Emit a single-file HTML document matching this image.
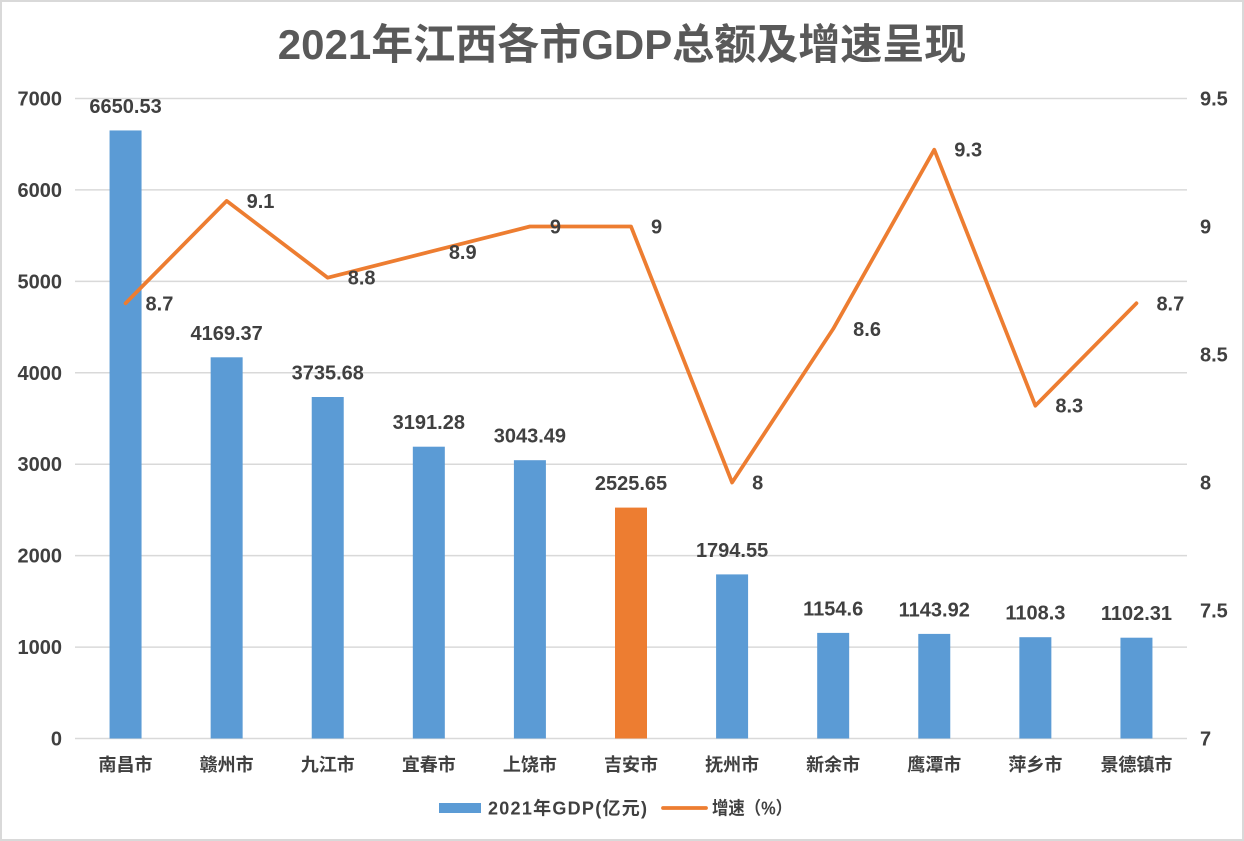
<!DOCTYPE html>
<html>
<head>
<meta charset="utf-8">
<style>
  html, body { margin: 0; padding: 0; background: #ffffff; }
  svg { display: block; }
  text { font-family: "Liberation Sans", "Noto Sans CJK SC", sans-serif; font-weight: bold; fill: #404040; }
</style>
</head>
<body>
<svg width="1244" height="841" viewBox="0 0 1244 841" xmlns="http://www.w3.org/2000/svg">
  <rect x="0" y="0" width="1244" height="841" fill="#ffffff"/>
  <rect x="1" y="1" width="1242" height="839" fill="none" stroke="#d9d9d9" stroke-width="2"/>

  <!-- Title -->
  <text x="622" y="59" text-anchor="middle" font-size="42" style="fill:#595959">2021年江西各市GDP总额及增速呈现</text>

  <!-- Gridlines -->
  <g stroke="#d9d9d9" stroke-width="1.5">
    <line x1="75" y1="98.5" x2="1187" y2="98.5"/>
    <line x1="75" y1="189.9" x2="1187" y2="189.9"/>
    <line x1="75" y1="281.4" x2="1187" y2="281.4"/>
    <line x1="75" y1="372.8" x2="1187" y2="372.8"/>
    <line x1="75" y1="464.2" x2="1187" y2="464.2"/>
    <line x1="75" y1="555.6" x2="1187" y2="555.6"/>
    <line x1="75" y1="647.1" x2="1187" y2="647.1"/>
    <line x1="75" y1="738.5" x2="1187" y2="738.5"/>
  </g>

  <!-- Left axis labels -->
  <g font-size="20" text-anchor="end">
    <text x="62" y="105.5">7000</text>
    <text x="62" y="196.9">6000</text>
    <text x="62" y="288.4">5000</text>
    <text x="62" y="379.8">4000</text>
    <text x="62" y="471.2">3000</text>
    <text x="62" y="562.6">2000</text>
    <text x="62" y="654.1">1000</text>
    <text x="62" y="745.5">0</text>
  </g>

  <!-- Right axis labels -->
  <g font-size="20" text-anchor="start">
    <text x="1200" y="105.5">9.5</text>
    <text x="1200" y="233.5">9</text>
    <text x="1200" y="361.5">8.5</text>
    <text x="1200" y="489.5">8</text>
    <text x="1200" y="617.5">7.5</text>
    <text x="1200" y="745.5">7</text>
  </g>

  <!-- Bars -->
  <g fill="#5b9bd5">
    <rect x="109.55" y="130.45" width="32" height="608.05"/>
    <rect x="210.64" y="357.3" width="32" height="381.2"/>
    <rect x="311.73" y="397.0" width="32" height="341.5"/>
    <rect x="412.82" y="446.7" width="32" height="291.8"/>
    <rect x="513.91" y="460.2" width="32" height="278.3"/>
    <rect x="615.0" y="507.6" width="32" height="230.9" fill="#ed7d31"/>
    <rect x="716.09" y="574.4" width="32" height="164.1"/>
    <rect x="817.18" y="632.9" width="32" height="105.6"/>
    <rect x="918.27" y="633.9" width="32" height="104.6"/>
    <rect x="1019.36" y="637.2" width="32" height="101.3"/>
    <rect x="1120.45" y="637.7" width="32" height="100.8"/>
  </g>

  <!-- Bar value labels -->
  <g font-size="20" text-anchor="middle">
    <text x="125.55" y="113">6650.53</text>
    <text x="226.64" y="339.8">4169.37</text>
    <text x="327.73" y="379.5">3735.68</text>
    <text x="428.82" y="429.2">3191.28</text>
    <text x="529.91" y="442.7">3043.49</text>
    <text x="631.0" y="490.1">2525.65</text>
    <text x="732.09" y="556.9">1794.55</text>
    <text x="833.18" y="615.4">1154.6</text>
    <text x="934.27" y="616.4">1143.92</text>
    <text x="1035.36" y="619.7">1108.3</text>
    <text x="1136.45" y="620.2">1102.31</text>
  </g>

  <!-- Growth line -->
  <polyline fill="none" stroke="#ed7d31" stroke-width="3.75" stroke-linejoin="round" stroke-linecap="round"
    points="125.55,303.3 226.64,200.9 327.73,277.7 428.82,252.1 529.91,226.5 631.0,226.5 732.09,482.5 833.18,328.9 934.27,149.7 1035.36,405.7 1136.45,303.3"/>

  <!-- Line labels -->
  <g font-size="20" text-anchor="start">
    <text x="145.55" y="310.3">8.7</text>
    <text x="246.64" y="207.9">9.1</text>
    <text x="347.73" y="284.7">8.8</text>
    <text x="448.82" y="259.1">8.9</text>
    <text x="549.91" y="233.5">9</text>
    <text x="651.0" y="233.5">9</text>
    <text x="752.09" y="489.5">8</text>
    <text x="853.18" y="335.9">8.6</text>
    <text x="954.27" y="156.7">9.3</text>
    <text x="1055.36" y="412.7">8.3</text>
    <text x="1156.45" y="310.3">8.7</text>
  </g>

  <!-- Category labels -->
  <g font-size="18" text-anchor="middle">
    <text x="125.55" y="771">南昌市</text>
    <text x="226.64" y="771">赣州市</text>
    <text x="327.73" y="771">九江市</text>
    <text x="428.82" y="771">宜春市</text>
    <text x="529.91" y="771">上饶市</text>
    <text x="631.0" y="771">吉安市</text>
    <text x="732.09" y="771">抚州市</text>
    <text x="833.18" y="771">新余市</text>
    <text x="934.27" y="771">鹰潭市</text>
    <text x="1035.36" y="771">萍乡市</text>
    <text x="1136.45" y="771">景德镇市</text>
  </g>

  <!-- Legend -->
  <rect x="439" y="803" width="42" height="10" fill="#5b9bd5"/>
  <text x="488" y="814.5" font-size="18" textLength="159" lengthAdjust="spacing">2021年GDP(亿元)</text>
  <line x1="663" y1="808" x2="706" y2="808" stroke="#ed7d31" stroke-width="3.75" stroke-linecap="round"/>
  <text x="712" y="814.5" font-size="18" textLength="80" lengthAdjust="spacingAndGlyphs">增速（%）</text>
</svg>
</body>
</html>
